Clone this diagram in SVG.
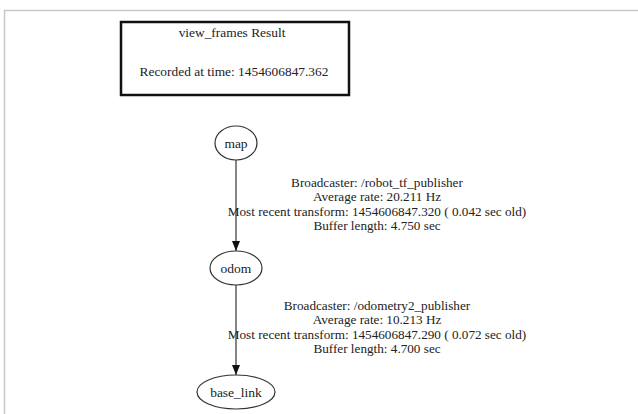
<svg xmlns="http://www.w3.org/2000/svg" width="638" height="414" viewBox="0 0 638 414">
  <style>
    text { font-family: "Liberation Serif", "Times New Roman", serif; fill: #222; }
    .title { font-size: 13.4px; text-anchor: middle; }
    .node-label { font-size: 13.5px; text-anchor: middle; }
    .edge-label { font-size: 13.2px; text-anchor: middle; }
    .node ellipse { fill: #fff; stroke: #333; stroke-width: 1.2; }
    .edge { stroke: #333; stroke-width: 1.2; fill: none; }
  </style>
  <defs>
    <marker id="arrow" viewBox="0 0 10 10" refX="10" refY="5" markerWidth="10" markerHeight="10" markerUnits="userSpaceOnUse" orient="auto">
      <path d="M0,1 L10,5 L0,9 Z" fill="#111"/>
    </marker>
  </defs>
  <rect width="638" height="414" fill="#fff"/>
  <!-- outer frame -->
  <path d="M4.5,414 V10.5 H638" fill="none" stroke="#c8c8c8" stroke-width="1.5"/>

  <g id="header">
    <rect x="121" y="22" width="228" height="73" fill="#fff" stroke="#111" stroke-width="2.5"/>
    <text class="title" x="232" y="37">view_frames Result</text>
    <text class="title" x="234" y="76">Recorded at time: 1454606847.362</text>
  </g>

  <g id="connectors">
    <line class="edge" x1="236" y1="160" x2="236" y2="251" marker-end="url(#arrow)"/>
    <line class="edge" x1="236" y1="285" x2="236" y2="375" marker-end="url(#arrow)"/>
    <g id="label-map-odom">
      <text class="edge-label" x="377" y="187">Broadcaster: /robot_tf_publisher</text>
      <text class="edge-label" x="377" y="201">Average rate: 20.211 Hz</text>
      <text class="edge-label" x="377" y="216">Most recent transform: 1454606847.320 ( 0.042 sec old)</text>
      <text class="edge-label" x="377" y="230">Buffer length: 4.750 sec</text>
    </g>
    <g id="label-odom-base_link">
      <text class="edge-label" x="377" y="310">Broadcaster: /odometry2_publisher</text>
      <text class="edge-label" x="377" y="324">Average rate: 10.213 Hz</text>
      <text class="edge-label" x="377" y="339">Most recent transform: 1454606847.290 ( 0.072 sec old)</text>
      <text class="edge-label" x="377" y="353">Buffer length: 4.700 sec</text>
    </g>
  </g>

  <g id="map" class="node">
    <ellipse cx="236" cy="143" rx="21" ry="17"/>
    <text class="node-label" x="236" y="147.5">map</text>
  </g>
  <g id="odom" class="node">
    <ellipse cx="236" cy="268" rx="26" ry="17"/>
    <text class="node-label" x="236" y="272.5">odom</text>
  </g>
  <g id="base_link" class="node">
    <ellipse cx="236" cy="392" rx="39" ry="17"/>
    <text class="node-label" x="236" y="396.5">base_link</text>
  </g>
</svg>
